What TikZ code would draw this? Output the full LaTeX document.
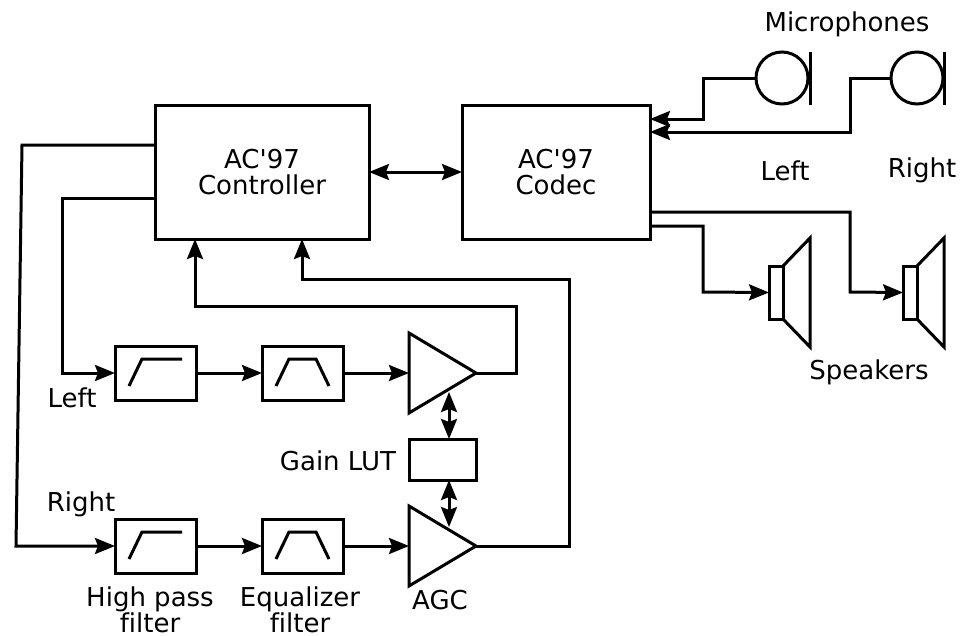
\documentclass[tikz,border=0pt]{standalone}
\usepackage{fontspec}
\setmainfont[Ligatures=NoCommon]{DejaVu Sans}
\usetikzlibrary{arrows.meta,calc}
\tikzset{
  wire/.style={line width=3pt,line join=miter},
  headtip/.tip={Stealth[length=20pt,width=16pt,inset=3pt]},
  sig/.style={wire,-headtip},
  bidir/.style={wire,headtip-headtip},
  blk/.style={draw,line width=3pt,inner sep=0pt,outer sep=0pt,anchor=north west},
  lbl/.style={font=\fontsize{26}{28}\selectfont,inner sep=0pt,align=center},
}
\begin{document}
\begin{tikzpicture}[x=1pt,y=-1pt]
\useasboundingbox (0,0) rectangle (963,635);
% main blocks
\node[blk,minimum width=214pt,minimum height=134pt] (ctrl) at (155,105) {};
\node[blk,minimum width=188pt,minimum height=134pt] (codec) at (462,105) {};
\node[lbl] at (262,172) {AC\textquotesingle 97\\[-2pt]Controller};
\node[lbl] at (556,172) {AC\textquotesingle 97\\[-2pt]Codec};
\draw[bidir] (ctrl.east) -- (codec.west);
% filters
\node[blk,minimum width=81pt,minimum height=54pt] (hpl) at (115,346) {};
\node[blk,minimum width=81pt,minimum height=54pt] (eql) at (262,346) {};
\node[blk,minimum width=81pt,minimum height=54pt] (hpr) at (115,519) {};
\node[blk,minimum width=81pt,minimum height=54pt] (eqr) at (262,519) {};
\foreach \n in {hpl,hpr}{
  \draw[wire] ($(\n.north west)+(14,40)$) -- ++(13,-27) -- ++(40,0);
}
\foreach \n in {eql,eqr}{
  \draw[wire] ($(\n.north west)+(14,40)$) -- ++(13,-27) -- ++(27,0) -- ++(13,27);
}
% amplifiers
\coordinate (ampl) at (409,373);
\coordinate (ampltip) at (476,373);
\coordinate (ampr) at (409,546);
\coordinate (amprtip) at (476,546);
\draw[wire] (409,333) -- (ampltip) -- (409,413) -- cycle;
\draw[wire] (409,506) -- (amprtip) -- (409,586) -- cycle;
\node[blk,minimum width=67pt,minimum height=41pt] (lut) at (409,439) {};
% filter chain
\draw[sig] (hpl.east) -- (eql.west);
\draw[sig] (eql.east) -- (ampl);
\draw[sig] (hpr.east) -- (eqr.west);
\draw[sig] (eqr.east) -- (ampr);
% gain arrows
\coordinate (ampla) at (449,392);
\coordinate (ampra) at (449,527);
\draw[bidir] (ampla) -- (lut.north -| ampla);
\draw[bidir] (lut.south -| ampra) -- (ampra);
% controller to filters
\coordinate (ctrlL) at (155,198);
\coordinate (ctrlR) at (155,145);
\draw[sig] (ctrlL) -- (62,198) -- (62,373) -- (hpl.west);
\draw[sig] (ctrlR) -- (22,145) -- (16,546) -- (hpr.west);
% amp to controller
\coordinate (ctrlA) at (195,239);
\coordinate (ctrlB) at (302,239);
\draw[sig] (ampltip) -- (516,373) -- (516,306) -- (195,306) -- (ctrlA);
\draw[sig] (amprtip) -- (569,546) -- (569,279) -- (302,279) -- (ctrlB);
% microphones
\node[draw,circle,line width=3pt,minimum size=52pt,inner sep=0pt,outer sep=0pt] (micl) at (782,78) {};
\node[draw,circle,line width=3pt,minimum size=52pt,inner sep=0pt,outer sep=0pt] (micr) at (917,78) {};
\draw[wire] (810,52) -- (810,105);
\draw[wire] (944,52) -- (944,105);
\coordinate (codecA) at (650,119);
\coordinate (codecB) at (650,132);
\draw[sig] (micl.west) -- (703,78) -- (703,119) -- (codecA);
\draw[sig] (micr.west) -- (850,78) -- (850,132) -- (codecB);
% speakers
\node[blk,minimum width=14pt,minimum height=53pt] (spl) at (769,266) {};
\node[blk,minimum width=14pt,minimum height=53pt] (spr) at (903,266) {};
\draw[wire] (spl.north east) -- (810,238) -- (810,347) -- (spl.south east);
\draw[wire] (spr.north east) -- (944,238) -- (944,347) -- (spr.south east);
\coordinate (codecC) at (650,226);
\coordinate (codecD) at (650,212);
\draw[sig] (codecC) -- (703,226) -- (703,292) -- (spl.west);
\draw[sig] (codecD) -- (850,212) -- (850,292) -- (spr.west);
% labels
\node[lbl] at (847,24) {Microphones};
\node[lbl] at (785,171) {Left};
\node[lbl] at (922,170) {Right};
\node[lbl] at (869,372) {Speakers};
\node[lbl] at (72,398) {Left};
\node[lbl] at (81,504) {Right};
\node[lbl] at (338,461) {Gain LUT};
\node[lbl] at (150,610) {High pass\\[-2pt]filter};
\node[lbl] at (300,610) {Equalizer\\[-2pt]filter};
\node[lbl] at (440,600) {AGC};
\end{tikzpicture}
\end{document}
